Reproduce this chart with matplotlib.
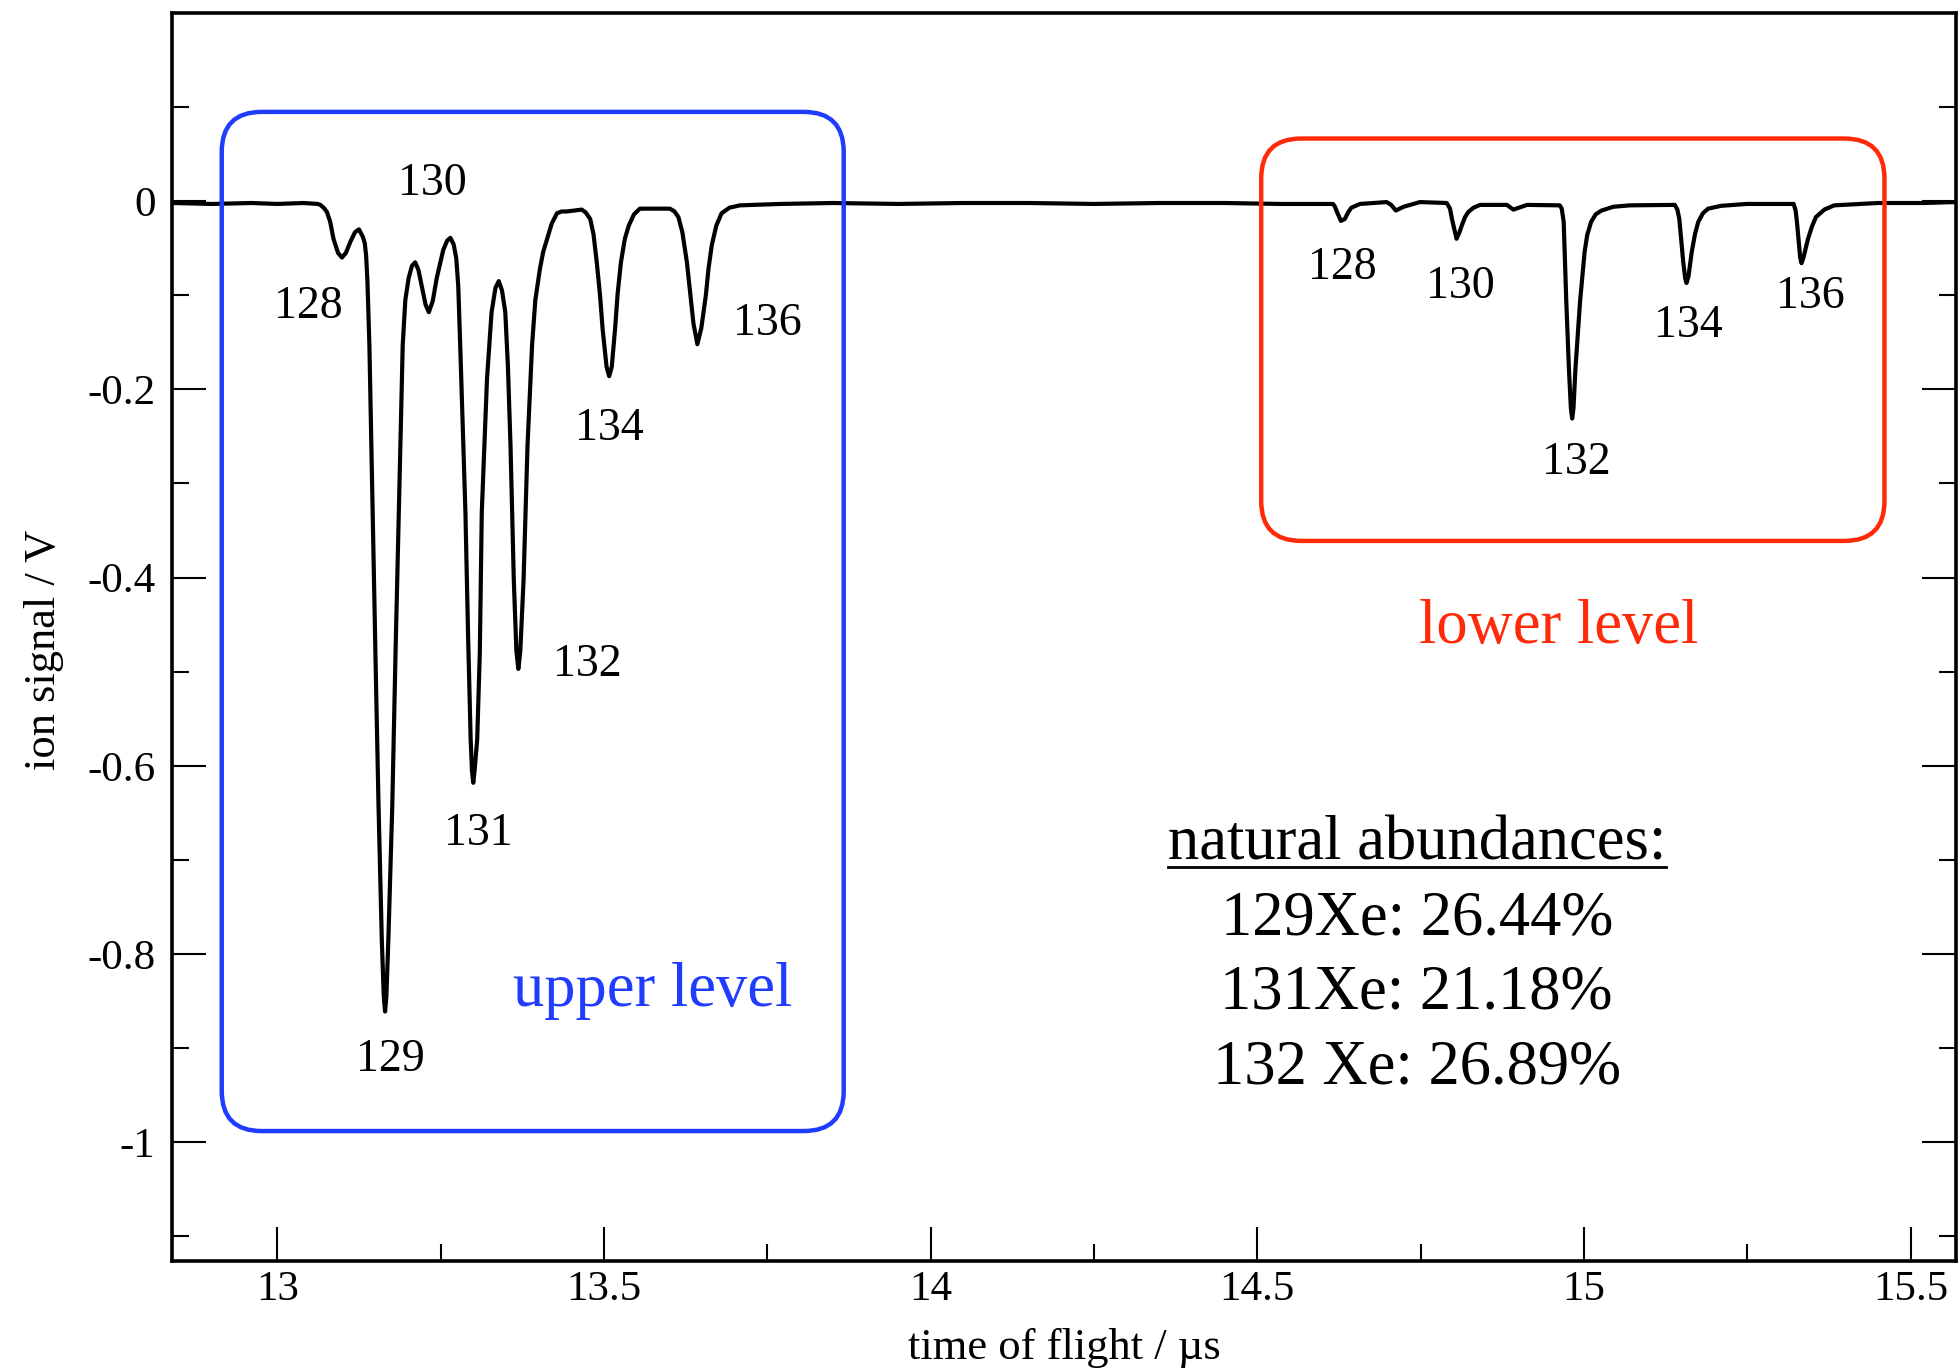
import matplotlib
matplotlib.use('Agg')
import matplotlib.pyplot as plt
from matplotlib.patches import FancyBboxPatch
from matplotlib.lines import Line2D
from matplotlib.ticker import FixedLocator, FormatStrFormatter

plt.rcParams['font.family'] = ['Liberation Serif', 'DejaVu Serif']
plt.rcParams['axes.unicode_minus'] = False

# ion trace: time of flight (us) and signal (V)
tof_us = [
    12.84, 12.90, 12.96, 13.00, 13.04, 13.062,
    13.066, 13.071, 13.076, 13.081, 13.086, 13.093, 13.099, 13.105, 13.112, 13.119,
    13.125, 13.131, 13.134, 13.136, 13.138, 13.141, 13.146, 13.151, 13.155, 13.160,
    13.163, 13.165, 13.167, 13.170, 13.176, 13.181, 13.186, 13.192, 13.196, 13.201,
    13.206, 13.211, 13.216, 13.221, 13.227, 13.232, 13.238, 13.244, 13.254, 13.260,
    13.265, 13.270, 13.274, 13.277, 13.280, 13.288, 13.292, 13.296, 13.298, 13.300,
    13.302, 13.306, 13.310, 13.313, 13.321, 13.328, 13.334, 13.339, 13.344, 13.349,
    13.353, 13.357, 13.362, 13.366, 13.369, 13.372, 13.377, 13.383, 13.390, 13.395,
    13.402, 13.407, 13.413, 13.420, 13.428, 13.435, 13.443, 13.466, 13.472, 13.479,
    13.484, 13.489, 13.494, 13.498, 13.504, 13.508, 13.512, 13.517, 13.521, 13.526,
    13.532, 13.538, 13.546, 13.555, 13.601, 13.608, 13.614, 13.620, 13.627, 13.637,
    13.643, 13.649, 13.656, 13.660, 13.665, 13.672, 13.680, 13.692, 13.708, 13.77,
    13.85, 13.95, 14.05, 14.15, 14.25, 14.35, 14.45, 14.535,
    14.616, 14.619, 14.622, 14.628, 14.634, 14.639, 14.644, 14.657, 14.698, 14.705,
    14.712, 14.724, 14.749, 14.790, 14.795, 14.798, 14.805, 14.809, 14.813, 14.818,
    14.823, 14.831, 14.841, 14.882, 14.892, 14.913, 14.963, 14.966, 14.969, 14.973,
    14.977, 14.980, 14.982, 14.984, 14.987, 14.994, 15.001, 15.005, 15.011, 15.018,
    15.027, 15.045, 15.070, 15.139, 15.143, 15.146, 15.152, 15.155, 15.157, 15.160,
    15.165, 15.170, 15.175, 15.182, 15.190, 15.21, 15.249, 15.321, 15.324, 15.326,
    15.331, 15.333, 15.336, 15.343, 15.349, 15.355, 15.368, 15.383,
    15.45, 15.52, 15.569,
]
signal_v = [
    -0.002, -0.003, -0.002, -0.003, -0.002, -0.003,
    -0.004, -0.007, -0.0115, -0.022, -0.040, -0.055, -0.060, -0.055, -0.043, -0.033,
    -0.030, -0.038, -0.045, -0.058, -0.085, -0.153, -0.331, -0.508, -0.643, -0.785,
    -0.845, -0.861, -0.845, -0.785, -0.643, -0.480, -0.331, -0.153, -0.105, -0.082,
    -0.069, -0.065, -0.073, -0.090, -0.110, -0.118, -0.106, -0.082, -0.052, -0.042,
    -0.039, -0.046, -0.061, -0.090, -0.153, -0.331, -0.460, -0.572, -0.605, -0.618,
    -0.605, -0.572, -0.480, -0.331, -0.189, -0.118, -0.092, -0.085, -0.095, -0.118,
    -0.175, -0.260, -0.402, -0.478, -0.497, -0.478, -0.402, -0.260, -0.153, -0.105,
    -0.072, -0.054, -0.040, -0.024, -0.013, -0.011, -0.011, -0.009, -0.012, -0.019,
    -0.035, -0.065, -0.100, -0.136, -0.176, -0.186, -0.176, -0.136, -0.098, -0.065,
    -0.040, -0.026, -0.014, -0.008, -0.008, -0.011, -0.017, -0.033, -0.065, -0.130,
    -0.152, -0.135, -0.100, -0.072, -0.047, -0.026, -0.013, -0.007, -0.0045, -0.003,
    -0.002, -0.003, -0.002, -0.002, -0.003, -0.002, -0.002, -0.003,
    -0.003, -0.006, -0.0115, -0.021, -0.019, -0.012, -0.007, -0.003, -0.001, -0.004,
    -0.010, -0.006, -0.001, -0.002, -0.008, -0.019, -0.040, -0.034, -0.026, -0.017,
    -0.0115, -0.007, -0.004, -0.004, -0.009, -0.004, -0.0045, -0.008, -0.022, -0.107,
    -0.178, -0.220, -0.231, -0.220, -0.178, -0.107, -0.054, -0.036, -0.022, -0.014,
    -0.010, -0.006, -0.0045, -0.004, -0.009, -0.019, -0.065, -0.082, -0.087, -0.080,
    -0.054, -0.035, -0.022, -0.013, -0.008, -0.005, -0.003, -0.003, -0.010, -0.022,
    -0.060, -0.066, -0.060, -0.040, -0.027, -0.017, -0.009, -0.0045,
    -0.002, -0.002, -0.001,
]

upper_masses = ['128', '129', '130', '131', '132', '134', '136']
lower_masses = ['128', '130', '132', '134', '136']
abund_isotopes = ['129Xe', '131Xe', '132 Xe']
abund_percent = [26.44, 21.18, 26.89]

xticks_major = [13, 13.5, 14, 14.5, 15, 15.5]
xticks_minor = [13.25, 13.75, 14.25, 14.75, 15.25]
yticks_major = [-1, -0.8, -0.6, -0.4, -0.2, 0]
yticks_minor = [-1.1, -0.9, -0.7, -0.5, -0.3, -0.1, 0.1]

blue = '#1f3cff'
red = '#ff2a0a'

fig = plt.figure(figsize=(19.6, 13.7), dpi=100)
ax = fig.add_axes([0.0878, 0.0796, 0.910, 0.911])
xlim = (12.839, 15.569)
ylim = (-1.126, 0.2)
ax.set_xlim(*xlim)
ax.set_ylim(*ylim)

ax.plot(tof_us, signal_v, color='black', lw=3.0, zorder=2,
        solid_joinstyle='round', solid_capstyle='round')

# axes look
for s in ax.spines.values():
    s.set_linewidth(2.6)
ax.xaxis.set_major_locator(FixedLocator(xticks_major))
ax.xaxis.set_minor_locator(FixedLocator(xticks_minor))
ax.yaxis.set_major_locator(FixedLocator(yticks_major))
ax.yaxis.set_minor_locator(FixedLocator(yticks_minor))
ax.xaxis.set_major_formatter(FormatStrFormatter('%g'))
ax.yaxis.set_major_formatter(FormatStrFormatter('%g'))
ax.tick_params(axis='both', which='both', direction='in', width=1.5)
ax.tick_params(axis='both', which='major', length=24.5, labelsize=31)
ax.tick_params(axis='both', which='minor', length=12)
ax.tick_params(axis='x', which='both', top=False, bottom=True, pad=7)
ax.tick_params(axis='y', which='both', left=True, right=True, pad=12)

ax.set_xlabel('time of flight / µs', fontsize=32)
ax.set_ylabel('ion signal / V', fontsize=32)
ax.xaxis.label.set_va('center')
ax.yaxis.label.set_va('center')
ax.xaxis.set_label_coords(0.5, -0.0697)
ax.yaxis.set_label_coords(-0.0717, 0.49)

# rounded boxes, corner radius kept round in pixels
ax_w = 0.910 * 1960
ax_h = 0.911 * 1370
aspect = ((ylim[1] - ylim[0]) / ax_h) / ((xlim[1] - xlim[0]) / ax_w)
rad = 40 * (xlim[1] - xlim[0]) / ax_w


def rounded_box(x0, x1, y0, y1, color):
    p = FancyBboxPatch((x0, y0), x1 - x0, y1 - y0,
                       boxstyle='round,pad=0,rounding_size=%f' % rad,
                       mutation_aspect=aspect, fill=False,
                       edgecolor=color, lw=3.2, zorder=3)
    ax.add_patch(p)


rounded_box(12.915, 13.867, -0.988, 0.0948, blue)
rounded_box(14.506, 15.460, -0.361, 0.0665, red)

# peak labels
upper_pos = [(13.048, -0.112), (13.173, -0.912), (13.238, 0.018), (13.307, -0.672),
             (13.475, -0.493), (13.509, -0.242), (13.750, -0.130)]
lower_pos = [(14.630, -0.071), (14.811, -0.091), (14.988, -0.278),
             (15.160, -0.132), (15.347, -0.102)]
for m, (x, y) in zip(upper_masses, upper_pos):
    ax.text(x, y, m, fontsize=33, ha='center', va='center')
for m, (x, y) in zip(lower_masses, lower_pos):
    ax.text(x, y, m, fontsize=33, ha='center', va='center')

ax.text(13.575, -0.8555, 'upper level', color=blue, fontsize=45,
        ha='center', va='baseline')
ax.text(14.961, -0.469, 'lower level', color=red, fontsize=45,
        ha='center', va='baseline')

# natural abundances block
title = ax.text(14.744, -0.6995, 'natural abundances:', fontsize=45,
                ha='center', va='baseline')
line_y = [-0.779, -0.858, -0.938]
for iso, pct, y in zip(abund_isotopes, abund_percent, line_y):
    ax.text(14.744, y, '%s: %.2f%%' % (iso, pct), fontsize=45,
            ha='center', va='baseline')

fig.canvas.draw()
bb = title.get_window_extent()
base = ax.transData.transform((14.744, -0.6995))[1]
uy = (base - 7) / fig.bbox.height
fig.add_artist(Line2D([bb.x0 / fig.bbox.width, bb.x1 / fig.bbox.width], [uy, uy],
                      transform=fig.transFigure, color='black', lw=2.0))

fig.savefig('out.png', dpi=100)
